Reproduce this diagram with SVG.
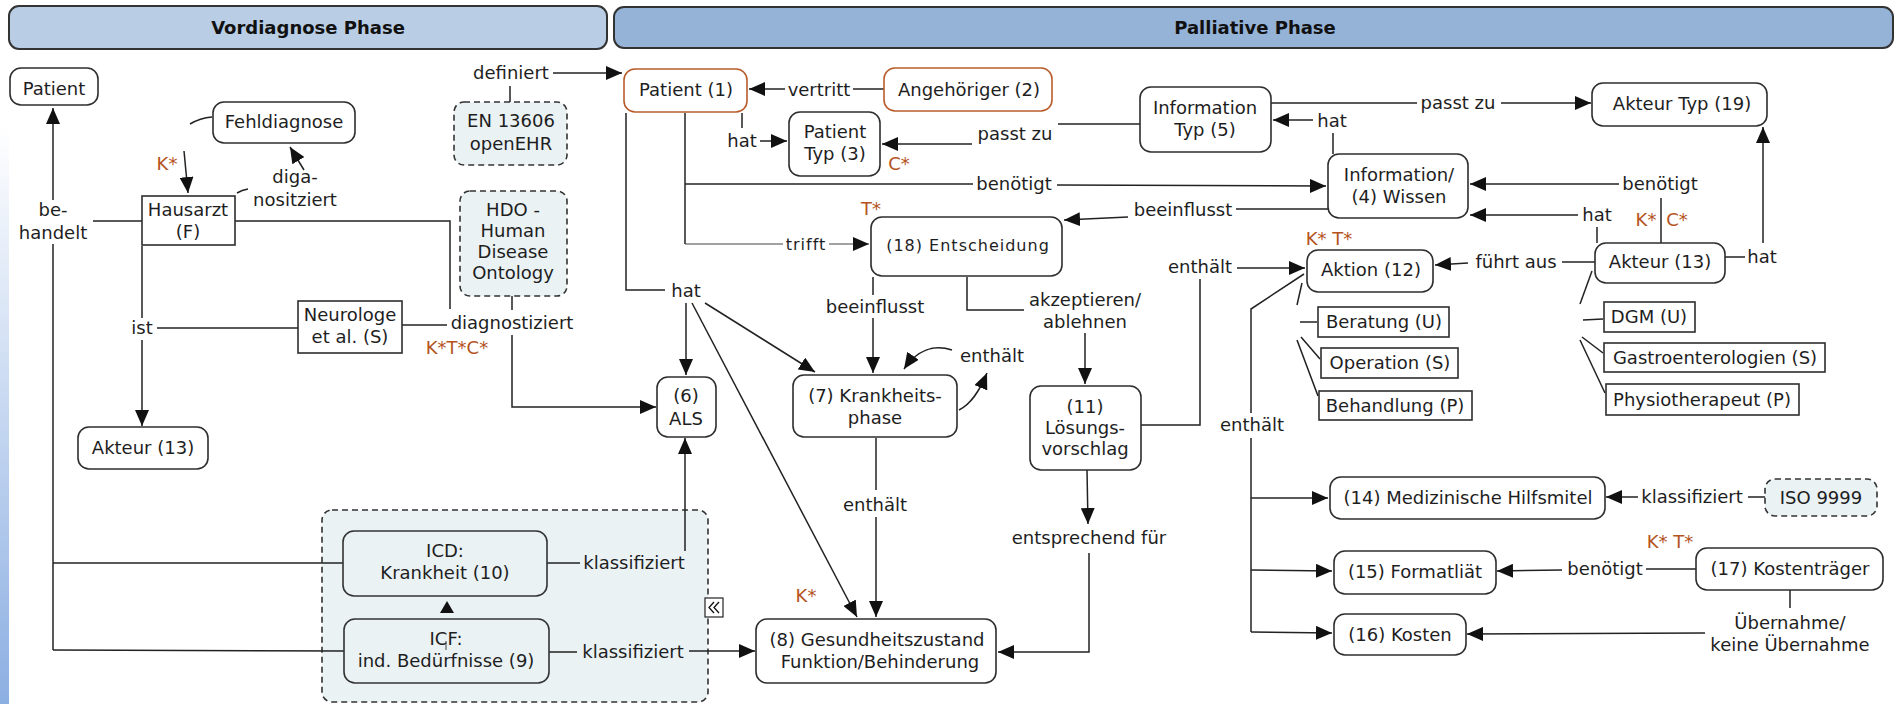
<svg xmlns="http://www.w3.org/2000/svg" width="1896" height="704" viewBox="0 0 1896 704">
<defs>
<linearGradient id="lg" x1="0" y1="0" x2="0" y2="1">
<stop offset="0.18" stop-color="#ffffff"/>
<stop offset="1" stop-color="#8cafe2"/>
</linearGradient>
<marker id="ah" markerUnits="userSpaceOnUse" markerWidth="17" markerHeight="14" refX="16" refY="7" orient="auto">
<path d="M0,0 L16,7 L0,14 z" fill="#111"/>
</marker>
<style>
text{font-family:"DejaVu Sans",Verdana,sans-serif;font-size:18px;fill:#1e1e1e;text-anchor:middle}
.h{font-weight:bold;fill:#111}
.o{fill:#b4531c}
.e{font-size:16px;letter-spacing:1px}
.n{fill:#fff;stroke:#2e2e2e;stroke-width:1.6}
.no{fill:#fff;stroke:#b85c2c;stroke-width:1.6}
.d{fill:#eaf2f4;stroke:#333;stroke-width:1.6;stroke-dasharray:6 4}
.hd1{fill:#b9cde5;stroke:#333;stroke-width:2}
.hd2{fill:#95b3d7;stroke:#333;stroke-width:2}
.c{fill:none;stroke:#222;stroke-width:1.5}
.thin{fill:none;stroke:#444;stroke-width:1}
.a{marker-end:url(#ah)}
</style>
</defs>
<rect x="0" y="0" width="1896" height="704" fill="#fff"/>
<rect x="0" y="0" width="9" height="704" fill="url(#lg)"/>

<g id="header-vordiagnose">
<rect class="hd1" x="9" y="6" width="598" height="43" rx="10"/>
<text class="h" x="308" y="34">Vordiagnose Phase</text>
</g>
<g id="header-palliative">
<rect class="hd2" x="614" y="7" width="1279" height="41" rx="10"/>
<text class="h" x="1255" y="34">Palliative Phase</text>
</g>

<g id="group-klassifikation">
<rect class="d" x="322" y="510" width="386" height="192" rx="10"/>
</g>

<g id="connectors">
<!-- be-handelt -->
<path class="c a" d="M53,200 L53,108"/>
<path class="c" d="M142,221 L93,221"/>
<path class="c" d="M53,244 L53,650"/>
<path class="c" d="M343,563 L53,563"/>
<path class="c" d="M344,651 L53,650"/>
<!-- ist -->
<path class="c" d="M142,246 L142,318"/>
<path class="c a" d="M142,340 L142,426"/>
<path class="c" d="M298,328 L157,328"/>
<!-- digan. / Fehldiagnose -->
<path class="c" d="M237,193 Q242,190 248,189"/>
<path class="c a" d="M304,170 L290,147"/>
<path class="c" d="M212,117 Q200,118 190,124"/>
<path class="c a" d="M184,151 L188,193"/>
<!-- diagnostiziert -->
<path class="c" d="M235,221 L450,221 L450,309"/>
<path class="c" d="M402,325 L447,325"/>
<path class="c" d="M512,296 L512,310"/>
<path class="c a" d="M512,335 L512,407 L656,407"/>
<!-- definiert -->
<path class="c" d="M510,102 L510,86"/>
<path class="c a" d="M553,73 L622,73"/>
<!-- vertritt -->
<path class="c" d="M884,89 L853,89"/>
<path class="c a" d="M785,89 L749,89"/>
<!-- hat Patient Typ -->
<path class="c" d="M742,113 L742,128"/>
<path class="c a" d="M760,141 L787,141"/>
<!-- passt zu (3) -->
<path class="c" d="M1140,124 L1058,124"/>
<path class="c a" d="M972,144 L882,144"/>
<!-- benoetigt Patient -> Wissen -->
<path class="c" d="M685,113 L685,244"/>
<path class="c" d="M685,184 L973,184"/>
<path class="c a" d="M1057,185 L1326,186"/>
<!-- trifft -->
<path class="thin" d="M685,244 L783,244"/>
<path class="thin a" d="M829,244 L869,244"/>
<!-- hat ALS etc -->
<path class="c" d="M626,113 L626,290 L665,290"/>
<path class="c a" d="M686,303 L686,375"/>
<path class="c a" d="M692,303 L857,617"/>
<path class="c a" d="M705,303 L815,372"/>
<!-- beeinflusst Entscheidung -> Krankheit -->
<path class="c" d="M873,277 L873,295"/>
<path class="c a" d="M873,318 L873,373"/>
<!-- enthaelt loop -->
<path class="c a" d="M959,410 C971,404 979,392 987,373"/>
<path class="c a" d="M952,350 C934,344 917,350 904,369"/>
<!-- enthaelt Krankheit -> Gesundheit -->
<path class="c" d="M876,438 L876,490"/>
<path class="c a" d="M876,517 L876,617"/>
<!-- akzeptieren -->
<path class="c" d="M967,277 L967,310 L1024,310"/>
<path class="c a" d="M1085,333 L1085,384"/>
<!-- entsprechend fuer -->
<path class="c a" d="M1087,470 L1088,524"/>
<path class="c a" d="M1089,553 L1089,652 L998,652"/>
<!-- enthaelt Loesung -> Aktion -->
<path class="c" d="M1141,425 L1200,425 L1200,279"/>
<path class="c a" d="M1237,268 L1305,268"/>
<!-- lower enthaelt -->
<path class="c" d="M1304,274 L1251,309 L1251,413"/>
<path class="c" d="M1251,438 L1251,632"/>
<path class="c a" d="M1251,498 L1328,498"/>
<path class="c a" d="M1251,570 L1332,571"/>
<path class="c a" d="M1251,632 L1332,633"/>
<!-- Aktion subs -->
<path class="c" d="M1302,283 L1297,305"/>
<path class="c" d="M1300,322 L1317,322"/>
<path class="c" d="M1301,337 L1320,359"/>
<path class="c" d="M1297,340 L1318,396"/>
<!-- Akteur subs -->
<path class="c" d="M1592,271 L1580,304"/>
<path class="c" d="M1583,320 L1603,319"/>
<path class="c" d="M1582,337 L1603,353"/>
<path class="c" d="M1580,340 L1605,393"/>
<!-- beeinflusst Wissen -> Entscheidung -->
<path class="c" d="M1328,209 L1236,209"/>
<path class="c a" d="M1128,217 L1064,220"/>
<!-- hat Wissen -> InfoTyp -->
<path class="c" d="M1333,154 L1333,133"/>
<path class="c a" d="M1313,120 L1273,120"/>
<!-- passt zu -> Akteur Typ -->
<path class="c" d="M1271,103 L1417,103"/>
<path class="c a" d="M1501,103 L1591,103"/>
<!-- benoetigt Akteur -> Wissen -->
<path class="c" d="M1661,243 L1661,198"/>
<path class="c a" d="M1619,184 L1470,184"/>
<!-- hat Akteur -> Wissen -->
<path class="c" d="M1597,243 L1597,227"/>
<path class="c a" d="M1578,215 L1470,215"/>
<!-- hat Akteur -> Akteur Typ -->
<path class="c" d="M1725,257 L1745,257"/>
<path class="c a" d="M1763,243 L1763,127"/>
<!-- fuehrt aus -->
<path class="c" d="M1595,262 L1562,262"/>
<path class="c a" d="M1468,263 L1435,265"/>
<!-- ISO klassifiziert -->
<path class="c" d="M1765,497 L1748,497"/>
<path class="c a" d="M1638,497 L1606,497"/>
<!-- Kostentraeger benoetigt -->
<path class="c" d="M1696,569 L1646,569"/>
<path class="c a" d="M1562,570 L1497,571"/>
<!-- Uebernahme -->
<path class="c" d="M1790,590 L1790,608"/>
<path class="c a" d="M1705,633 L1467,634"/>
<!-- ICD / ICF klassifiziert -->
<path class="c" d="M547,563 L580,563"/>
<path class="c a" d="M685,551 L685,438"/>
<path class="c" d="M549,652 L577,652"/>
<path class="c a" d="M689,651 L755,651"/>
<!-- ICF -> ICD -->
<polygon points="440,613 454,613 447,601" fill="#111"/>
</g>

<g id="linking-phrases">
<text x="53" y="216">be-</text>
<text x="53" y="239">handelt</text>
<text x="295" y="183">diga-</text>
<text x="295" y="206">nositziert</text>
<text x="142" y="334">ist</text>
<text x="511" y="79">definiert</text>
<text x="512" y="329">diagnostiziert</text>
<text x="819" y="96">vertritt</text>
<text x="742" y="147">hat</text>
<text x="1015" y="140">passt zu</text>
<text x="1014" y="190">benötigt</text>
<text class="e" x="806" y="250">trifft</text>
<text x="686" y="297">hat</text>
<text x="875" y="313">beeinflusst</text>
<text x="992" y="362">enthält</text>
<text x="1085" y="306">akzeptieren/</text>
<text x="1085" y="328">ablehnen</text>
<text x="875" y="511">enthält</text>
<text x="1089" y="544">entsprechend für</text>
<text x="634" y="569">klassifiziert</text>
<text x="633" y="658">klassifiziert</text>
<text x="1183" y="216">beeinflusst</text>
<text x="1332" y="127">hat</text>
<text x="1458" y="109">passt zu</text>
<text x="1660" y="190">benötigt</text>
<text x="1597" y="221">hat</text>
<text x="1762" y="263">hat</text>
<text x="1516" y="268">führt aus</text>
<text x="1200" y="273">enthält</text>
<text x="1252" y="431">enthält</text>
<text x="1692" y="503">klassifiziert</text>
<text x="1605" y="575">benötigt</text>
<text x="1790" y="629">Übernahme/</text>
<text x="1790" y="651">keine Übernahme</text>
</g>

<g id="annotations">
<text class="o" x="167" y="170">K*</text>
<text class="o" x="457" y="354">K*T*C*</text>
<text class="o" x="899" y="170">C*</text>
<text class="o" x="871" y="215">T*</text>
<text class="o" x="806" y="602">K*</text>
<text class="o" x="1329" y="245">K* T*</text>
<text class="o" x="1646" y="226">K*</text>
<text class="o" x="1677" y="226">C*</text>
<text class="o" x="1670" y="548">K*  T*</text>
</g>

<g id="n-patient"><rect class="n" x="10" y="68" width="88" height="37" rx="11"/><text x="54" y="95">Patient</text></g>
<g id="n-fehldiagnose"><rect class="n" x="213" y="102" width="142" height="41" rx="11"/><text x="284" y="128">Fehldiagnose</text></g>
<g id="n-hausarzt"><rect class="n" x="142" y="196" width="93" height="49"/><text x="188" y="216">Hausarzt</text><text x="188" y="238">(F)</text></g>
<g id="n-neurologe"><rect class="n" x="298" y="301" width="104" height="52"/><text x="350" y="321">Neurologe</text><text x="350" y="343">et al. (S)</text></g>
<g id="n-en13606"><rect class="d" x="454" y="102" width="113" height="63" rx="10"/><text x="511" y="127">EN 13606</text><text x="511" y="150">openEHR</text></g>
<g id="n-hdo"><rect class="d" x="460" y="191" width="107" height="105" rx="10"/><text x="513" y="216">HDO -</text><text x="513" y="237">Human</text><text x="513" y="258">Disease</text><text x="513" y="279">Ontology</text></g>
<g id="n-akteur13-left"><rect class="n" x="78" y="427" width="130" height="42" rx="11"/><text x="143" y="454">Akteur (13)</text></g>
<g id="n-icd"><rect class="d" style="stroke-dasharray:none" x="343" y="531" width="204" height="65" rx="11"/><text x="445" y="557">ICD:</text><text x="445" y="579">Krankheit (10)</text></g>
<g id="n-icf"><rect class="d" style="stroke-dasharray:none" x="344" y="619" width="205" height="64" rx="11"/><text x="446" y="645">ICF:</text><text x="446" y="667">ind. Bedürfnisse (9)</text><path class="thin" d="M446,641 L446,650"/></g>
<g id="icon-collapse"><rect x="705" y="598" width="18" height="19" fill="#fff" stroke="#222" stroke-width="1.2"/><polyline points="714,602 709,607.5 714,613" fill="none" stroke="#111" stroke-width="1.3"/><polyline points="719,602 714,607.5 719,613" fill="none" stroke="#111" stroke-width="1.3"/></g>

<g id="n-patient1"><rect class="no" x="624" y="69" width="123" height="43" rx="11"/><text x="686" y="96">Patient (1)</text></g>
<g id="n-angehoeriger2"><rect class="no" x="884" y="68" width="168" height="43" rx="11"/><text x="969" y="96">Angehöriger (2)</text></g>
<g id="n-patienttyp3"><rect class="n" x="789" y="112" width="91" height="64" rx="11"/><text x="835" y="138">Patient</text><text x="835" y="160">Typ (3)</text></g>
<g id="n-infotyp5"><rect class="n" x="1140" y="87" width="131" height="65" rx="11"/><text x="1205" y="114">Information</text><text x="1205" y="136">Typ (5)</text></g>
<g id="n-akteurtyp19"><rect class="n" x="1592" y="83" width="175" height="43" rx="11"/><text x="1682" y="110">Akteur Typ (19)</text></g>
<g id="n-wissen4"><rect class="n" x="1328" y="154" width="140" height="64" rx="11"/><text x="1399" y="181">Information/</text><text x="1399" y="203">(4) Wissen</text></g>
<g id="n-entscheidung18"><rect class="n" x="871" y="217" width="191" height="59" rx="11"/><text class="e" x="968" y="251">(18) Entscheidung</text></g>
<g id="n-als6"><rect class="n" x="657" y="377" width="59" height="60" rx="11"/><text x="686" y="402">(6)</text><text x="686" y="425">ALS</text></g>
<g id="n-krankheitsphase7"><rect class="n" x="793" y="375" width="164" height="62" rx="11"/><text x="875" y="402">(7) Krankheits-</text><text x="875" y="424">phase</text></g>
<g id="n-loesung11"><rect class="n" x="1030" y="386" width="111" height="84" rx="11"/><text x="1085" y="413">(11)</text><text x="1085" y="434">Lösungs-</text><text x="1085" y="455">vorschlag</text></g>
<g id="n-gesundheit8"><rect class="n" x="756" y="619" width="240" height="64" rx="11"/><text x="877" y="646">(8) Gesundheitszustand</text><text x="880" y="668">Funktion/Behinderung</text></g>
<g id="n-aktion12"><rect class="n" x="1307" y="250" width="126" height="42" rx="11"/><text x="1371" y="276">Aktion (12)</text></g>
<g id="n-akteur13"><rect class="n" x="1595" y="243" width="130" height="40" rx="11"/><text x="1660" y="268">Akteur (13)</text></g>
<g id="n-beratung"><rect class="n" x="1318" y="307" width="131" height="30"/><text x="1384" y="328">Beratung (U)</text></g>
<g id="n-operation"><rect class="n" x="1321" y="348" width="137" height="30"/><text x="1390" y="369">Operation (S)</text></g>
<g id="n-behandlung"><rect class="n" x="1319" y="391" width="153" height="29"/><text x="1395" y="412">Behandlung (P)</text></g>
<g id="n-dgm"><rect class="n" x="1604" y="302" width="91" height="30"/><text x="1649" y="323">DGM (U)</text></g>
<g id="n-gastro"><rect class="n" x="1604" y="343" width="221" height="29"/><text x="1715" y="364">Gastroenterologien (S)</text></g>
<g id="n-physio"><rect class="n" x="1606" y="384" width="193" height="31"/><text x="1702" y="406">Physiotherapeut (P)</text></g>
<g id="n-hilfsmittel14"><rect class="n" x="1330" y="477" width="275" height="42" rx="11"/><text x="1468" y="504">(14) Medizinische Hilfsmitel</text></g>
<g id="n-iso9999"><rect class="d" x="1765" y="479" width="112" height="37" rx="10"/><text x="1821" y="504">ISO 9999</text></g>
<g id="n-formalitaet15"><rect class="n" x="1334" y="551" width="162" height="43" rx="11"/><text x="1415" y="578">(15) Formatliät</text></g>
<g id="n-kostentraeger17"><rect class="n" x="1696" y="548" width="187" height="42" rx="11"/><text x="1790" y="575">(17) Kostenträger</text></g>
<g id="n-kosten16"><rect class="n" x="1334" y="614" width="132" height="41" rx="11"/><text x="1400" y="641">(16) Kosten</text></g>
</svg>
